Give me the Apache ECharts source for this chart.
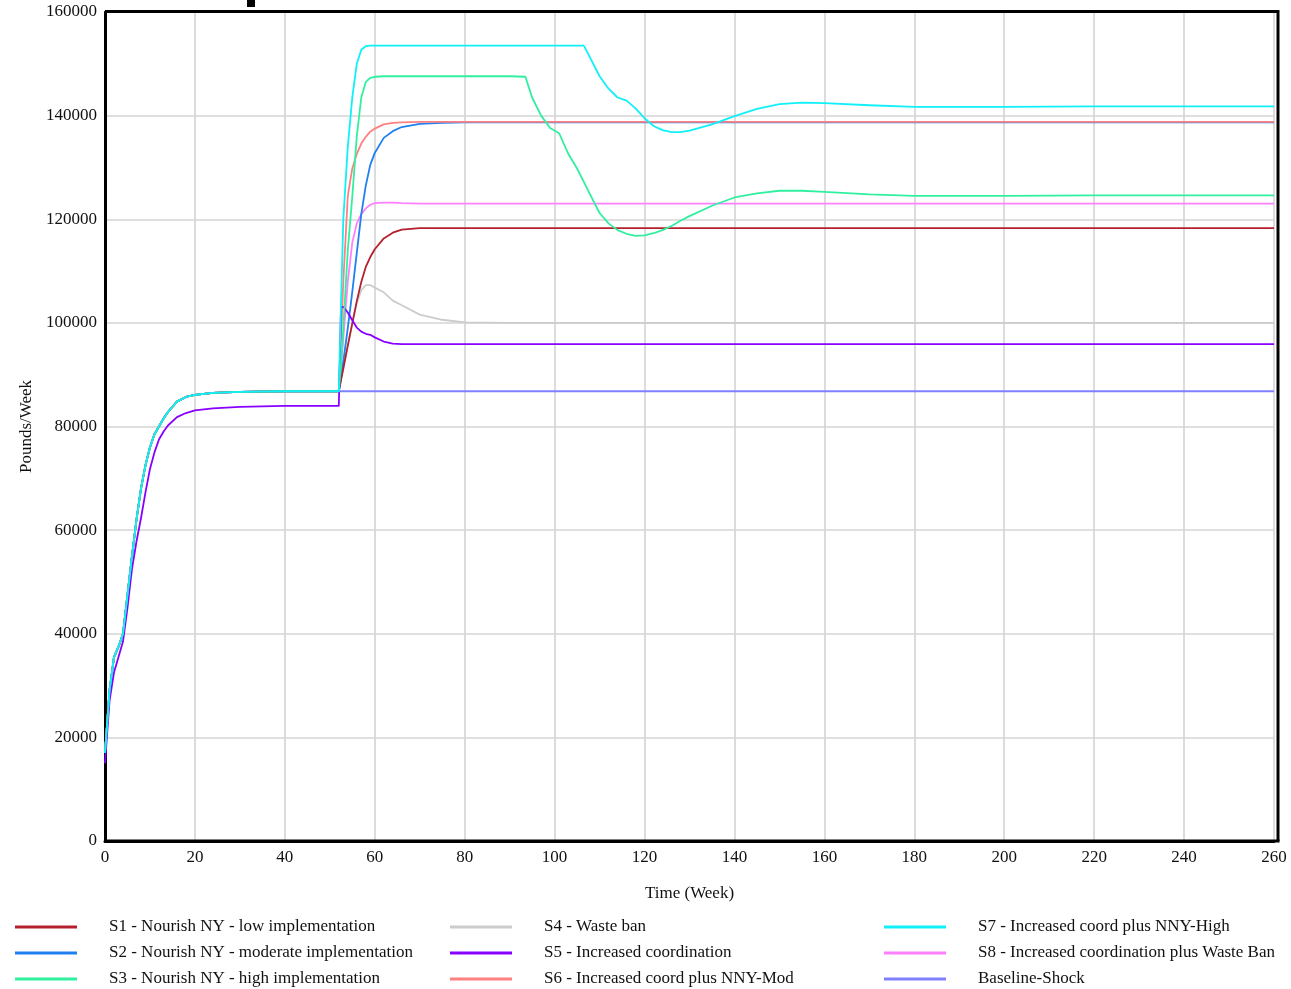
<!DOCTYPE html>
<html>
<head>
<meta charset="utf-8">
<script src="https://cdn.jsdelivr.net/npm/echarts@6/dist/echarts.min.js"></script>
<style>
html,body{margin:0;padding:0;background:#fff;}
#chart{width:1291px;height:989px;}
</style>
</head>
<body>
<div id="chart"></div>
<script>
// ---- DATA ----
var seriesNames = [
  "S1 - Nourish NY - low implementation",
  "S2 - Nourish NY - moderate implementation",
  "S3 - Nourish NY - high implementation",
  "S4 - Waste ban",
  "S5 - Increased coordination",
  "S6 - Increased coord plus NNY-Mod",
  "S7 - Increased coord plus NNY-High",
  "S8 - Increased coordination plus Waste Ban",
  "Baseline-Shock"
];
var seriesColors = ["#b5202e","#2080f0","#30f0a0","#cccccc","#8800ff","#ff8080","#10f0f8","#ff80ff","#8080ff"];

var earlyWeeks = [0,1,2,3,4,5,6,7,8,9,10,11,12,13,14,16,18,20,24,30,40,52];
var earlyCommon = [17000,29000,35500,37500,40000,47500,55000,62000,68000,72500,76000,78500,80000,81500,82800,84800,85700,86100,86500,86700,86800,86800];
var earlyS5 = [15000,27000,32500,35500,38500,45000,52500,57800,62300,67300,71800,75000,77500,79000,80200,81800,82600,83100,83500,83800,84000,84000];

var lateWeeks = [52.5,53,54,55,56,57,58,59,60,62,64,66,
                 70,75,80,90,93.5,95,97,99,101,103,105,106.5,
                 108,110,112,114,116,118,120,122,124,126,128,130,
                 135,140,145,150,155,160,170,180,200,220,240,260];

var s1Late = [89000,91200,95600,99900,104200,107900,110800,112700,114200,116300,117400,118000,
              118300,118300,118300,118300,118300,118300,118300,118300,118300,118300,118300,118300,
              118300,118300,118300,118300,118300,118300,118300,118300,118300,118300,118300,118300,
              118300,118300,118300,118300,118300,118300,118300,118300,118300,118300,118300,118300];
var s2Late = [89500,92500,99000,106000,113500,121000,126500,130500,132800,135700,137000,137800,
              138400,138600,138700,138700,138700,138700,138700,138700,138700,138700,138700,138700,
              138700,138700,138700,138700,138700,138700,138700,138700,138700,138700,138700,138700,
              138700,138700,138700,138700,138700,138700,138700,138700,138700,138700,138700,138700];
var s3Late = [92000,99000,114000,124400,136000,143500,146500,147300,147500,147600,147600,147600,
              147600,147600,147600,147600,147500,143500,140000,137600,136600,132700,129800,127200,
              124600,121200,119200,117900,117200,116800,116900,117300,117900,118700,119700,120600,
              122600,124200,125000,125500,125500,125300,124800,124500,124500,124600,124600,124600];
var s4Late = [89000,91200,95600,99900,103800,106300,107300,107300,106800,105900,104300,103400,
              101600,100600,100100,100000,100000,100000,100000,100000,100000,100000,100000,100000,
              100000,100000,100000,100000,100000,100000,100000,100000,100000,100000,100000,100000,
              100000,100000,100000,100000,100000,100000,100000,100000,100000,100000,100000,100000];
var s5Late = [103000,103100,102000,100500,99100,98300,97900,97700,97200,96400,96000,95900,
              95900,95900,95900,95900,95900,95900,95900,95900,95900,95900,95900,95900,
              95900,95900,95900,95900,95900,95900,95900,95900,95900,95900,95900,95900,
              95900,95900,95900,95900,95900,95900,95900,95900,95900,95900,95900,95900];
var s6Late = [97000,108000,124500,129800,132600,134600,135900,136900,137500,138300,138600,138700,
              138800,138800,138800,138800,138800,138800,138800,138800,138800,138800,138800,138800,
              138800,138800,138800,138800,138800,138800,138800,138800,138800,138800,138800,138800,
              138800,138800,138800,138800,138800,138800,138800,138800,138800,138800,138800,138800];
var s7Late = [104000,120000,134000,143500,150000,152700,153400,153500,153500,153500,153500,153500,
              153500,153500,153500,153500,153500,153500,153500,153500,153500,153500,153500,153500,
              151000,147600,145200,143500,142900,141400,139500,138000,137200,136800,136800,137100,
              138300,139900,141300,142200,142500,142400,142000,141700,141700,141800,141800,141800];
var s8Late = [91500,97000,108000,115500,119200,121000,122100,122800,123100,123200,123200,123100,
              123000,123000,123000,123000,123000,123000,123000,123000,123000,123000,123000,123000,
              123000,123000,123000,123000,123000,123000,123000,123000,123000,123000,123000,123000,
              123000,123000,123000,123000,123000,123000,123000,123000,123000,123000,123000,123000];
var baseLate = [86800,86800,86800,86800,86800,86800,86800,86800,86800,86800,86800,86800,
                86800,86800,86800,86800,86800,86800,86800,86800,86800,86800,86800,86800,
                86800,86800,86800,86800,86800,86800,86800,86800,86800,86800,86800,86800,
                86800,86800,86800,86800,86800,86800,86800,86800,86800,86800,86800,86800];

var xTicks = {min:0, max:260, interval:20};
var yTicks = {min:0, max:160000, interval:20000};

// ---- BUILD ----
var weeks = earlyWeeks.concat(lateWeeks);
var allValues = [
  earlyCommon.concat(s1Late),
  earlyCommon.concat(s2Late),
  earlyCommon.concat(s3Late),
  earlyCommon.concat(s4Late),
  earlyS5.concat(s5Late),
  earlyCommon.concat(s6Late),
  earlyCommon.concat(s7Late),
  earlyCommon.concat(s8Late),
  earlyCommon.concat(baseLate)
];
function pairs(vals){ return vals.map(function(v,i){ return [weeks[i], v]; }); }

var drawOrder = [8,3,7,1,5,0,4,2,6];
var series = drawOrder.map(function(k){
  return {
    name: seriesNames[k], type:'line', data: pairs(allValues[k]),
    showSymbol:false, symbol:'none', smooth:false,
    lineStyle:{color:seriesColors[k], width:1.8, join:'round'},
    itemStyle:{color:seriesColors[k]},
    z: 2 + drawOrder.indexOf(k)
  };
});

var FONT = '"Liberation Serif", "DejaVu Serif", serif';
var TXT = '#111';
function legendCol(left, names){
  return {
    orient:'vertical', left:left, top:918, padding:0, itemWidth:62, itemHeight:3, itemGap:8,
    icon:'rect', data:names, selectedMode:false,
    textStyle:{fontFamily:FONT, fontSize:17, color:TXT, lineHeight:18, padding:[0,0,0,27]}
  };
}

var chart = echarts.init(document.getElementById('chart'), null, {renderer:'canvas'});
chart.setOption({
  animation:false,
  backgroundColor:'#fff',
  color: seriesColors,
  grid:{left:105, right:17, top:12, bottom:148, show:false},
  xAxis:{
    type:'value', min:xTicks.min, max:xTicks.max, interval:xTicks.interval,
    name:'Time (Week)', nameLocation:'middle', nameGap:44,
    nameTextStyle:{fontFamily:FONT, fontSize:17, color:TXT},
    axisLine:{show:true, lineStyle:{color:'#000', width:3}},
    axisTick:{show:false},
    axisLabel:{fontFamily:FONT, fontSize:17, color:TXT, margin:8},
    splitLine:{show:true, lineStyle:{color:'#d4d4d4', width:1.6}}
  },
  yAxis:{
    type:'value', min:yTicks.min, max:yTicks.max, interval:yTicks.interval,
    name:'Pounds/Week', nameLocation:'middle', nameGap:68,
    nameTextStyle:{fontFamily:FONT, fontSize:17, color:TXT},
    axisLine:{show:true, lineStyle:{color:'#000', width:3}},
    axisTick:{show:false},
    axisLabel:{fontFamily:FONT, fontSize:17, color:TXT, margin:8, formatter:function(v){ return String(v); }},
    splitLine:{show:true, lineStyle:{color:'#d4d4d4', width:1.6}}
  },
  legend:[
    legendCol(15, seriesNames.slice(0,3)),
    legendCol(450, seriesNames.slice(3,6)),
    legendCol(884, seriesNames.slice(6,9))
  ],
  graphic:[
    {type:'rect', left:247, top:0, shape:{width:8, height:7}, style:{fill:'#000'}, z:100},
    {type:'polyline', shape:{points:[[105,11.5],[1278,11.5],[1278,841]]}, style:{stroke:'#000', lineWidth:3, fill:null}, z:100},
    {type:'line', shape:{x1:105, y1:841, x2:1279.5, y2:841}, style:{stroke:'#000', lineWidth:3}, z:100}
  ],
  series: series
});
</script>
</body>
</html>
